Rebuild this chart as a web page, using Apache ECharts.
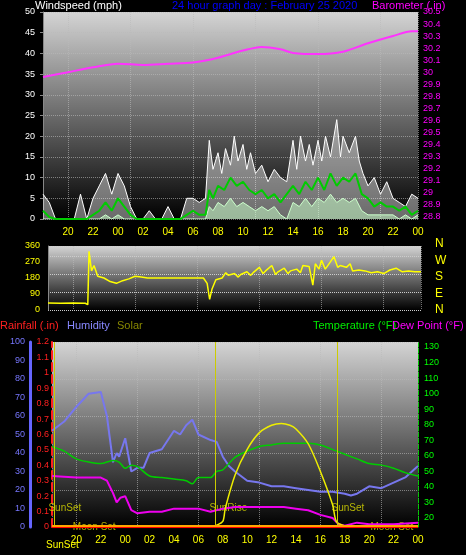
<!DOCTYPE html><html><head><meta charset="utf-8">
<script src="https://cdn.jsdelivr.net/npm/echarts@6/dist/echarts.min.js"></script>
<style>body{margin:0;background:#000}#c{width:466px;height:555px}</style></head><body><div id="c"></div>
<script>
// hours since 00 of previous day (24 = midnight)
const hourTicks=[20,22,24,26,28,30,32,34,36,38,40,42,44,46,48];
const gust=[[18,6],[18.5,4],[19,0],[19.5,0],[20,0],[20.5,0],[21,6],[21.5,0],[22,5],[22.5,8],[23,11],[23.5,6],[24,11],[24.5,8],[25,3],[25.5,0],[26,0],[26.5,2],[27,0],[27.5,0],[28,3],[28.5,0],[29,0],[29.5,5],[30,5],[30.5,4],[31,5],[31.3,19],[31.6,12],[32,16],[32.3,11],[32.6,17],[33,13],[33.3,20],[33.6,14],[34,18],[34.3,12],[34.6,16],[35,11],[35.5,13],[36,9],[36.5,12],[37,10],[37.5,9],[38,19],[38.3,12],[38.6,20],[39,14],[39.3,18],[39.6,13],[40,19],[40.3,14],[40.6,20],[41,15],[41.5,24],[41.8,15],[42,20],[42.5,16],[43,20],[43.3,14],[43.6,11],[44,8],[44.5,10],[45,6],[45.5,9],[46,5],[46.5,4],[47,3],[47.5,6],[48,5]];
const windAvg=[[18,2],[18.5,0.5],[19,0],[21,0],[21.5,0],[22,1],[22.5,2],[23,4],[23.5,2],[24,5],[24.5,3],[25,1],[25.5,0],[29,0],[29.5,1],[30,2],[30.5,1],[31,1],[31.3,7],[31.6,5],[32,8],[32.5,7],[33,10],[33.5,8],[34,9],[34.5,7],[35,6],[35.5,7],[36,5],[36.5,6],[37,4],[37.5,6],[38,8],[38.5,6],[39,9],[39.5,7],[40,10],[40.5,7],[41,11],[41.5,8],[42,10],[42.5,9],[43,11],[43.5,6],[44,5],[44.5,3],[45,4],[45.5,3],[46,3],[46.5,2],[47,3],[47.5,1],[48,2]];
const windLull=[[18,0],[22.5,0],[23,1],[23.5,0],[24,1],[24.5,0],[31,0],[31.3,3],[31.6,2],[32,4],[32.5,3],[33,5],[33.5,3],[34,4],[34.5,3],[35,2],[35.5,3],[36,2],[36.5,3],[37,1],[37.5,0],[38,4],[38.5,3],[39,5],[39.5,3],[40,5],[40.5,4],[41,6],[41.5,4],[42,5],[42.5,4],[43,5],[43.5,2],[44,1],[45,1],[46,1],[46.5,0],[47,1],[47.5,0],[48,1]];
const baro=[[18,29.96],[20,30.0],[22,30.04],[24,30.07],[26,30.06],[28,30.07],[30,30.08],[32,30.12],[34,30.18],[35.5,30.21],[37,30.19],[38,30.16],[40,30.15],[42,30.17],[44,30.24],[46,30.30],[47.5,30.34],[48,30.34]];
const windDir=[[18,40],[19,38],[20,40],[21,38],[21.2,30],[21.3,330],[21.5,220],[21.7,250],[22,190],[22.5,180],[23,160],[23.5,150],[24,165],[24.5,175],[25,190],[25.5,185],[26,180],[30.5,180],[30.8,150],[31,60],[31.2,120],[31.5,170],[32,180],[32.3,210],[32.5,195],[33,205],[33.3,185],[33.5,200],[34,215],[34.3,195],[34.5,210],[35,240],[35.3,205],[35.5,220],[36,250],[36.3,200],[36.5,215],[37,235],[37.3,205],[37.5,220],[38,230],[38.3,210],[38.5,250],[39,245],[39.3,140],[39.5,260],[39.8,230],[40,280],[40.3,230],[40.5,250],[41,300],[41.3,240],[41.5,250],[42,240],[42.3,260],[42.5,220],[43,225],[43.5,220],[44,210],[44.5,215],[45,205],[45.5,225],[46,235],[46.5,215],[47,220],[47.5,215],[48,215]];
const humidity=[[18,52],[19,57],[20,65],[21,72],[22,73],[22.5,60],[23,35],[23.3,40],[23.5,38],[24,48],[24.5,30],[25,32],[25.5,32],[26,40],[27,42],[28,52],[28.5,50],[29,55],[29.5,58],[30,50],[31,47],[31.5,46],[32,38],[32.5,33],[33,30],[34,25],[35,24],[36,22],[37,22],[38,21],[39,20],[40,19],[41,19],[42,18],[42.5,17],[43,18],[44,22],[45,21],[46,24],[47,27],[48,33]];
const temperature=[[18,66],[19,63],[20,58],[21,56],[22,55],[23,57],[23.5,56],[24,52],[24.5,54],[25,53],[26,47],[27,46],[28,45],[29,44],[29.5,42],[30,46],[31,46],[31.5,50],[32,51],[33,59],[34,63],[35,66],[36,67],[37,68],[38,68],[39,68],[40,67],[41,64],[42,61],[43,58],[44,55],[45,54],[46,52],[47,49],[48,47]];
const dewPoint=[[18,47],[20,46],[22,46],[22.5,44],[23,36],[23.3,30],[23.6,33],[24,34],[24.5,25],[25,23],[26,24],[27,24],[28,26],[29,26],[30,26],[31,24],[32,26],[33,27],[34,27],[36,27],[37,27],[38,26],[39,25],[40,22],[41,20],[41.5,16],[42,15],[43,17],[44,16],[46,16],[48,17]];
const solar=[[18,0],[31,0],[31.5,1],[32,3],[32.2,10],[33,28],[34,42],[35,51],[36,55],[36.8,56],[37.5,55],[38,53],[39,45],[40,30],[41,12],[41.3,3],[41.8,1],[42.5,0],[48,0]];
const rainfall=[[18,0],[48,0]];
const humTicks=[0,10,20,30,40,50,60,70,80,90,100];
const rainTicks=[0,0.1,0.2,0.3,0.4,0.5,0.6,0.7,0.8,0.9,1,1.1,1.2];
const tempTicks=[20,30,40,50,60,70,80,90,100,110,120,130];
const dirTicks=[0,90,180,270,360];
const baroTicks=[28.8,28.9,29,29.1,29.2,29.3,29.4,29.5,29.6,29.7,29.8,29.9,30,30.1,30.2,30.3,30.4,30.5];
const events=[['SunSet',18.2,10],['SunRise',31.4,10],['SunSet',41.4,10],['Moon Set',20.2,0],['Moon Set',44.6,0]];

const bg={type:'linear',x:0,y:0,x2:0,y2:1,colorStops:[{offset:0,color:'#d4d4d4'},{offset:1,color:'#000'}]};
const F='Liberation Sans';
const hl=v=>String(((v%24)+24)%24).padStart(2,'0');
function xa(gi){return{type:'value',gridIndex:gi,min:18,max:48,axisLine:{show:false},axisTick:{show:false},
 axisLabel:{show:gi!==1,color:'#ffff00',fontSize:10,fontFamily:F,customValues:hourTicks,formatter:v=>hl(v)},
 splitLine:{show:true,lineStyle:{color:'#bbb',type:'dotted',opacity:0.6}}};}
const sl={show:true,lineStyle:{color:'#bbb',type:'dotted',opacity:0.6}};
const ch=echarts.init(document.getElementById('c'));
ch.setOption({backgroundColor:'#000',animation:false,
 grid:[{left:43,right:48,top:12,height:207,show:true,backgroundColor:bg,borderWidth:0},
       {left:48,right:45,top:246,height:64,show:true,backgroundColor:bg,borderWidth:0},
       {left:52,right:48,top:342,height:185,show:true,backgroundColor:bg,borderWidth:0}],
 xAxis:[xa(0),xa(1),xa(2)],
 yAxis:[
  {gridIndex:0,position:'left',min:0,max:50,interval:5,axisLabel:{color:'#fff',fontSize:9,fontFamily:F},axisLine:{show:true,lineStyle:{color:'#888'}},axisTick:{show:true,length:3},splitLine:sl},
  {gridIndex:0,position:'right',min:28.78,max:30.5,axisLabel:{color:'#ff00ff',fontSize:9,fontFamily:F,margin:5,customValues:baroTicks,formatter:v=>String(+v.toFixed(1))},axisTick:{show:false},axisLine:{show:false},splitLine:{show:false}},
  {gridIndex:1,position:'left',min:0,max:360,axisLabel:{color:'#ffff00',fontSize:9,fontFamily:F,customValues:dirTicks},axisLine:{show:true,lineStyle:{color:'#888'}},axisTick:{show:false},splitLine:{show:true,lineStyle:{color:'#ccc',type:'dotted'}}},
  {gridIndex:2,position:'left',min:0,max:100,offset:22,axisLabel:{color:'#7777ff',fontSize:9,fontFamily:F,margin:5,customValues:humTicks},axisLine:{show:true,lineStyle:{color:'#6666ff',width:3}},axisTick:{show:false},splitLine:sl},
  {gridIndex:2,position:'left',offset:0,min:0,max:1.2,axisLabel:{color:'#ff2020',fontSize:9,fontFamily:F,margin:3,customValues:rainTicks,formatter:v=>String(+v.toFixed(1))},axisLine:{show:true,lineStyle:{color:'#ff2020',type:'dashed',width:2}},axisTick:{show:false},splitLine:{show:false}},
  {gridIndex:2,position:'right',min:14.2,max:133.2,axisLabel:{color:'#00ff00',fontSize:9,fontFamily:F,margin:6,customValues:tempTicks},axisLine:{show:true,lineStyle:{color:'#00cc00',type:'dashed'}},axisTick:{show:false},splitLine:{show:false}}
 ],
 series:[
  {type:'line',xAxisIndex:0,yAxisIndex:0,data:gust,symbol:'none',lineStyle:{color:'#fff',width:1},areaStyle:{color:'rgba(255,255,255,0.6)'}},
  {type:'line',xAxisIndex:0,yAxisIndex:0,data:windLull,symbol:'none',lineStyle:{color:'#ccffcc',width:1},areaStyle:{color:'rgba(200,255,200,0.75)'}},
  {type:'line',xAxisIndex:0,yAxisIndex:0,data:windAvg,symbol:'none',lineStyle:{color:'#00cc00',width:2}},
  {type:'line',xAxisIndex:0,yAxisIndex:1,data:baro,symbol:'none',smooth:0.3,lineStyle:{color:'#ff33ff',width:2}},
  {type:'line',xAxisIndex:1,yAxisIndex:2,data:windDir,symbol:'none',lineStyle:{color:'#ffff00',width:1.5}},
  {type:'line',xAxisIndex:2,yAxisIndex:3,data:humidity,symbol:'none',lineStyle:{color:'#7777ee',width:2}},
  {type:'line',xAxisIndex:2,yAxisIndex:5,data:temperature,symbol:'none',smooth:0.3,lineStyle:{color:'#00cc00',width:1.5}},
  {type:'line',xAxisIndex:2,yAxisIndex:5,data:dewPoint,symbol:'none',lineStyle:{color:'#ee00ee',width:2}},
  {type:'line',xAxisIndex:2,yAxisIndex:3,data:solar,symbol:'none',smooth:0.3,lineStyle:{color:'#eeee00',width:1.5},
   markLine:{symbol:'none',silent:true,lineStyle:{color:'#cccc00',type:'solid',width:1},label:{show:false},data:events.slice(0,3).map(e=>({xAxis:e[1]}))}},
  {type:'scatter',xAxisIndex:2,yAxisIndex:3,symbolSize:0,data:events.map(e=>({value:[e[1],e[2]],name:e[0]})),
   label:{show:true,position:'right',distance:-6,color:'#dddd00',fontSize:10,fontFamily:F,formatter:p=>p.name}},
  {type:'line',xAxisIndex:2,yAxisIndex:4,data:rainfall,symbol:'none',lineStyle:{color:'#ff0000',width:2.5},
   markLine:{symbol:'none',silent:true,lineStyle:{color:'#ffa500',width:2,type:'solid'},label:{show:false},data:[{yAxis:0.006}]}}
 ],
 graphic:[
  {type:'text',left:35,top:0,style:{text:'Windspeed (mph)',fill:'#fff',font:'11px '+F}},
  {type:'text',left:172,top:0,style:{text:'24 hour graph day : February 25 2020',fill:'#0000ff',font:'11px '+F}},
  {type:'text',left:372,top:0,style:{text:'Barometer (.in)',fill:'#ff00ff',font:'11px '+F}},
  ...['N','W','S','E','N'].map((t,i)=>({type:'text',left:435,top:238+i*16.5,style:{text:t,fill:'#ffff00',font:'12px '+F}})),
  {type:'text',left:0,top:320,style:{text:'Rainfall (.in)',fill:'#ff2020',font:'11px '+F}},
  {type:'text',left:67,top:320,style:{text:'Humidity',fill:'#8888ff',font:'11px '+F}},
  {type:'text',left:117,top:320,style:{text:'Solar',fill:'#888800',font:'11px '+F}},
  {type:'text',left:313,top:320,style:{text:'Temperature (°F)',fill:'#00ee00',font:'11px '+F}},
  {type:'text',left:392,top:320,style:{text:'Dew Point (°F)',fill:'#ff00ff',font:'11px '+F}},
  {type:'text',left:46,top:540,style:{text:'SunSet',fill:'#ffff00',font:'10px '+F}}
 ]
});
</script></body></html>
